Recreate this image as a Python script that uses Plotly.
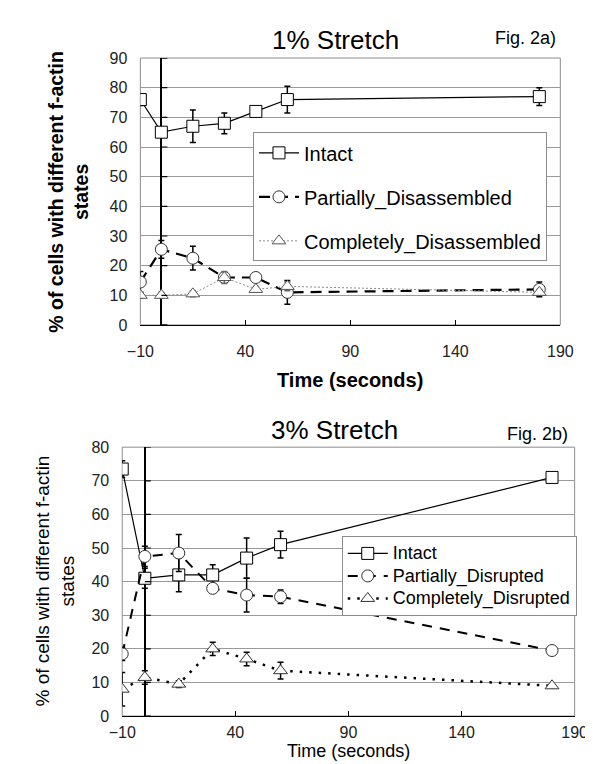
import plotly.graph_objects as go

# ---------------- data ----------------
time_s = [-10, 0, 15, 30, 45, 60, 180]

# Fig 2a - 1% stretch
intact_1 = [76, 65, 67, 68, 72, 76, 77]
intact_1_err = [2, 1.5, 5.5, 3.5, 1.5, 4.5, 3]
partial_1 = [14.5, 25.5, 22.5, 16, 16, 11, 12]
partial_1_err = [3.5, 3, 4, 1, 1, 4, 2.5]
complete_1 = [10, 10, 10.5, 16, 12, 13, 11]
complete_1_err = [1, 1, 1, 2, 1, 1.5, 1]

# Fig 2b - 3% stretch
intact_3 = [73.5, 41, 42, 42, 47, 51, 71]
intact_3_err = [2.5, 3, 5, 3, 6, 4, 1]
partial_3 = [18.5, 47.5, 48.5, 38, 36, 35.5, 19.5]
partial_3_err = [2, 3, 5.5, 1, 5, 2, 1]
complete_3 = [8, 11.5, 9.5, 20, 17, 13.5, 9]
complete_3_err = [5, 2, 1, 2, 2, 2.5, 0.5]

x_ticks = [-10, 40, 90, 140, 190]
y_ticks_1 = [0, 10, 20, 30, 40, 50, 60, 70, 80, 90]
y_ticks_3 = [0, 10, 20, 30, 40, 50, 60, 70, 80]
stretch_onset = 0

names_1 = ["Intact", "Partially_Disassembled", "Completely_Disassembled"]
names_3 = ["Intact", "Partially_Disrupted", "Completely_Disrupted"]

FONT = "Liberation Sans, Arial, sans-serif"
BLACK = "#000000"

fig = go.Figure()


def add_series(x, y, err, name, xa, ya, legend, group, line, marker_symbol, mcolor, ecolor):
    fig.add_trace(go.Scatter(
        x=x, y=y, name=name, mode="lines+markers",
        xaxis=xa, yaxis=ya, legend=legend, legendgroup=group,
        line=line,
        marker=dict(symbol=marker_symbol, size=12, color="white",
                    line=dict(color=mcolor, width=1)),
        error_y=dict(type="data", array=err, visible=True, color=ecolor,
                     thickness=1.5, width=3),
    ))


def big(name):
    return '<span style="font-size:18px">%s</span>' % name


# top
add_series(time_s, intact_1, intact_1_err, names_1[0], "x", "y", "legend", "a1",
           dict(color=BLACK, width=1.2), "square", BLACK, BLACK)
add_series(time_s, partial_1, partial_1_err, names_1[1], "x", "y", "legend", "a2",
           dict(color=BLACK, width=2.2, dash="11px,7px"), "circle", "#333333", BLACK)
add_series(time_s, complete_1, complete_1_err, names_1[2], "x", "y", "legend", "a3",
           dict(color="#8a8a8a", width=1, dash="2px,2px"), "triangle-up", "#555555", "#666666")

# bottom
add_series(time_s, intact_3, intact_3_err, big(names_3[0]), "x2", "y2", "legend2", "b1",
           dict(color=BLACK, width=1.2), "square", BLACK, BLACK)
add_series(time_s, partial_3, partial_3_err, big(names_3[1]), "x2", "y2", "legend2", "b2",
           dict(color=BLACK, width=2, dash="10px,8px"), "circle", "#333333", BLACK)
add_series(time_s, complete_3, complete_3_err, big(names_3[2]), "x2", "y2", "legend2", "b3",
           dict(color=BLACK, width=2.5, dash="2.5px,7px"), "triangle-up", "#333333", BLACK)

W, H = 593, 764


def px_x(p):
    return p / W


def px_y(p):
    return 1 - p / H


tickfont = dict(family=FONT, size=16, color="#222222")
xcommon = dict(range=[-10, 190], tickmode="array", tickvals=x_ticks, ticks="inside",
               ticklen=5, tickcolor=BLACK, tickwidth=1, showline=True, linecolor=BLACK,
               linewidth=1.2, showgrid=False, zeroline=True, zerolinecolor=BLACK,
               zerolinewidth=1.5, tickfont=tickfont, fixedrange=True)
ycommon = dict(tickmode="array", ticks="", showline=False, showgrid=True,
               gridcolor="#9a9a9a", gridwidth=1, zeroline=False, tickfont=tickfont,
               ticklabelstandoff=12, fixedrange=True)

shapes = []
for xr, yr, ticks in (("x", "y", y_ticks_1), ("x2", "y2", y_ticks_3)):
    shapes.append(dict(type="rect", xref=xr + " domain", yref=yr + " domain",
                       x0=0, x1=1, y0=0, y1=1, line=dict(color="#8c8c8c", width=1),
                       layer="below"))
    for t in ticks:
        shapes.append(dict(type="line", xref=xr, yref=yr, xsizemode="pixel",
                           xanchor=stretch_onset, x0=0, x1=6, y0=t, y1=t,
                           line=dict(color=BLACK, width=1.2)))

ann = []


def text(t, x, y, size, bold=False, angle=0, color=BLACK):
    ann.append(dict(text=("<b>%s</b>" % t) if bold else t, x=px_x(x), y=px_y(y),
                    xref="paper", yref="paper", showarrow=False, textangle=angle,
                    xanchor="center", yanchor="middle",
                    font=dict(family=FONT, size=size, color=color)))


text("1% Stretch", 328, 25, 26)
text("Fig. 2a)", 527, 22, 18)
text("3% Stretch", 327, 423, 26)
text("Fig. 2b)", 540, 428, 18)
text("Time (seconds)", 344, 372, 20, bold=True)
text("Time (seconds)", 342, 752, 18)
text("% of cells with different f-actin<br>states", 49, 180, 19.5, bold=True, angle=-90)
text("% of cells with different f-actin<br>states", 35, 578, 19, angle=-90)

fig.update_layout(
    width=W, height=H, margin=dict(l=0, r=0, t=0, b=0),
    paper_bgcolor="white", plot_bgcolor="white",
    font=dict(family=FONT, color=BLACK),
    xaxis=dict(domain=[px_x(124), px_x(564)], anchor="y", ticklabelstandoff=12, **xcommon),
    yaxis=dict(domain=[px_y(316), px_y(43)], anchor="x", range=[0, 90],
               tickvals=y_ticks_1, **ycommon),
    xaxis2=dict(domain=[px_x(105), px_x(579)], anchor="y2", ticklabelstandoff=2, **xcommon),
    yaxis2=dict(domain=[px_y(716), px_y(441)], anchor="x2", range=[0, 80],
                tickvals=y_ticks_3, **ycommon),
    legend=dict(x=px_x(242), y=px_y(119), xanchor="left", yanchor="top",
                bgcolor="white", bordercolor="#8c8c8c", borderwidth=1,
                font=dict(family=FONT, size=20, color=BLACK), tracegroupgap=15,
                itemwidth=40),
    legend2=dict(x=px_x(335), y=px_y(532), xanchor="left", yanchor="top",
                 bgcolor="white", bordercolor="#8c8c8c", borderwidth=1,
                 font=dict(family=FONT, size=15, color=BLACK), tracegroupgap=0,
                 itemwidth=40),
    shapes=shapes, annotations=ann, showlegend=True,
)

fig.write_html("out.html")
